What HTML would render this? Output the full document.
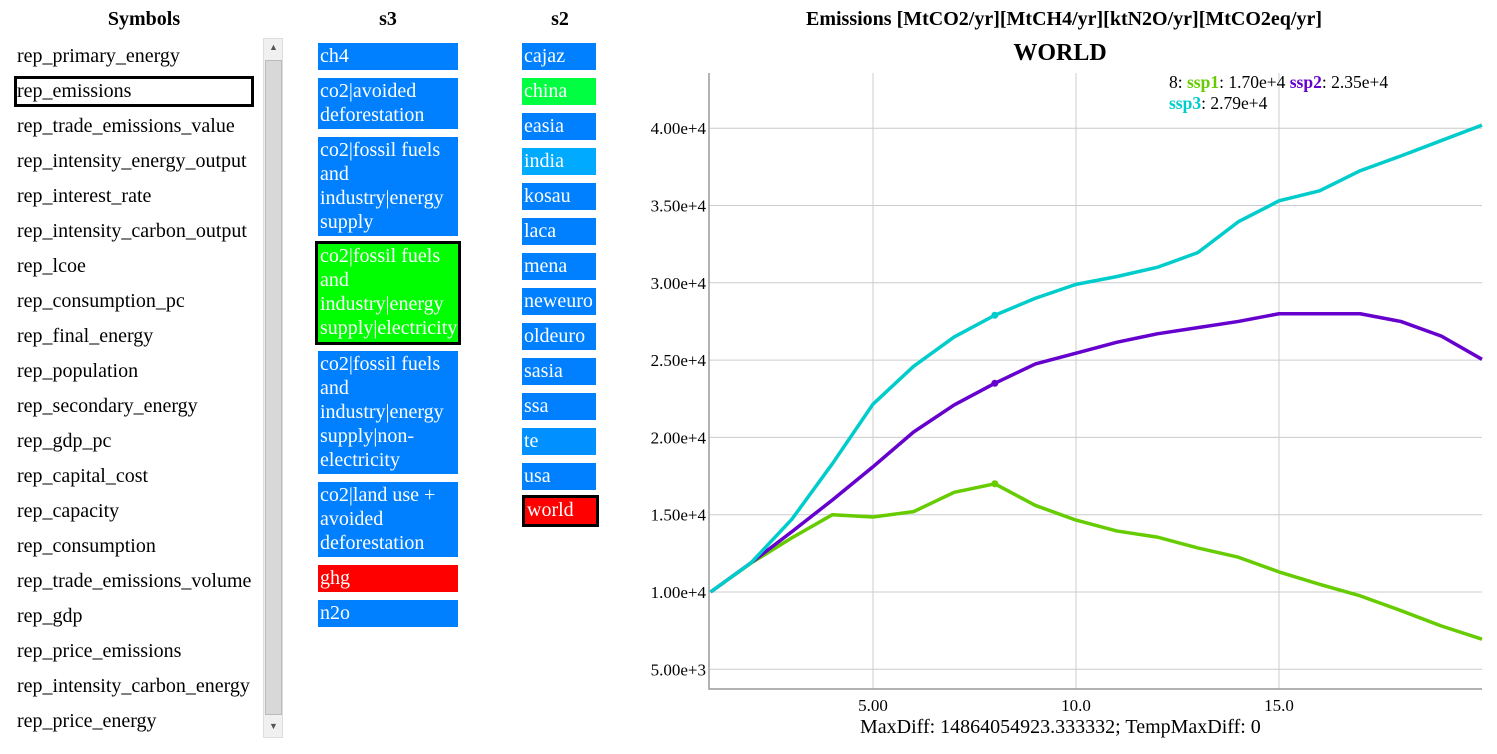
<!DOCTYPE html>
<html><head><meta charset="utf-8">
<style>
body{margin:0;width:1497px;height:754px;background:#fff;font-family:"Liberation Serif",serif;font-size:20px;color:#000;position:relative;overflow:hidden}
.abs{position:absolute}
.h{font-weight:bold;text-align:center}
.sym{position:absolute;left:14px;width:240px;height:31px;line-height:30px;padding-left:3px;box-sizing:border-box;white-space:nowrap}
.b{position:absolute;color:#fff;line-height:24px;padding:1px 2px;box-sizing:border-box;background:#0080ff;white-space:nowrap}
</style></head><body>
<div class="abs h" style="left:14px;width:260px;top:8px">Symbols</div>
<div class="abs h" style="left:318px;width:140px;top:8px">s3</div>
<div class="abs h" style="left:522px;width:76px;top:8px">s2</div>
<div id="symlist"></div>
<div class="abs" style="left:263px;top:38px;width:20px;height:700px;background:#f0f0f0;border:1px solid #ddd;box-sizing:border-box">
 <div class="abs" style="left:5px;top:3px;font-size:9px;color:#555">▲</div>
 <div class="abs" style="left:1px;top:21px;width:17px;height:655px;background:#d8d8d8;border:1px solid #bbb;box-sizing:border-box"></div>
 <div class="abs" style="left:5px;top:682px;font-size:9px;color:#555">▼</div>
</div>
<div id="s3"></div>
<div id="s2"></div>

<div class="abs h" style="left:700px;width:728px;top:8px;font-size:20px;white-space:nowrap">Emissions [MtCO2/yr][MtCH4/yr][ktN2O/yr][MtCO2eq/yr]</div>
<div class="abs h" style="left:860px;width:400px;top:40px;font-size:24px">WORLD</div>
<svg class="abs" style="left:0;top:0" width="1497" height="754" id="chart"></svg>
<div class="abs" style="left:1169px;top:72px;font-size:17.5px;line-height:21px;white-space:nowrap">8: <b style="color:#66cc00">ssp1</b>: 1.70e+4 <b style="color:#6600cc">ssp2</b>: 2.35e+4<br><b style="color:#00cccc">ssp3</b>: 2.79e+4</div>
<div class="abs" style="left:860px;top:716px;font-size:20px;white-space:nowrap">MaxDiff: 14864054923.333332; TempMaxDiff: 0</div>

<script>
const symbols=["rep_primary_energy","rep_emissions","rep_trade_emissions_value","rep_intensity_energy_output","rep_interest_rate","rep_intensity_carbon_output","rep_lcoe","rep_consumption_pc","rep_final_energy","rep_population","rep_secondary_energy","rep_gdp_pc","rep_capital_cost","rep_capacity","rep_consumption","rep_trade_emissions_volume","rep_gdp","rep_price_emissions","rep_intensity_carbon_energy","rep_price_energy"];
const sl=document.getElementById('symlist');
symbols.forEach((s,i)=>{const d=document.createElement('div');d.className='sym';d.style.top=(41+i*35)+'px';d.textContent=s;
if(i===1){d.style.border='3px solid #000';d.style.paddingLeft='0px';d.style.lineHeight='25px';}


sl.appendChild(d);});

const s3=[["ch4",43,27,"#0080ff",0],["co2|avoided<br>deforestation",78,51,"#0080ff",0],["co2|fossil fuels<br>and<br>industry|energy<br>supply",137,99,"#0080ff",0],["co2|fossil fuels<br>and<br>industry|energy<br>supply|electricity",241,104,"#00ff00",1],["co2|fossil fuels<br>and<br>industry|energy<br>supply|non-<br>electricity",351,123,"#0080ff",0],["co2|land use +<br>avoided<br>deforestation",482,75,"#0080ff",0],["ghg",565,27,"#ff0000",0],["n2o",600,27,"#0080ff",0]];
const c3=document.getElementById('s3');
s3.forEach(a=>{const d=document.createElement('div');d.className='b';d.innerHTML=a[0];d.style.left='318px';d.style.width='140px';d.style.top=a[1]+'px';d.style.height=a[2]+'px';d.style.background=a[3];
if(a[4]){d.style.border='3px solid #000';d.style.left='315px';d.style.width='146px';d.style.padding='0 2px';}


c3.appendChild(d);});
const s2=[["cajaz","#0080ff"],["china","#00ff40"],["easia","#0080ff"],["india","#00aaff"],["kosau","#0080ff"],["laca","#0080ff"],["mena","#0080ff"],["neweuro","#0080ff"],["oldeuro","#0080ff"],["sasia","#0080ff"],["ssa","#0080ff"],["te","#0090ff"],["usa","#0080ff"],["world","#ff0000"]];
const c2=document.getElementById('s2');
s2.forEach((a,i)=>{const d=document.createElement('div');d.className='b';d.textContent=a[0];d.style.left='522px';d.style.width='74px';d.style.top=(43+i*35)+'px';d.style.height='27px';d.style.background=a[1];
if(a[0]==='world'){d.style.border='3px solid #000';d.style.top='495px';d.style.height='32px';d.style.width='77px';d.style.padding='0 2px';}


c2.appendChild(d);});

// chart data
const years=[1,2,3,4,5,6,7,8,9,10,11,12,13,14,15,16,17,18,19,20];
const ssp1=[10000,11880,13500,15000,14850,15200,16450,17000,15600,14650,13950,13550,12850,12250,11300,10500,9750,8800,7800,6950];
const ssp2=[10000,11900,13900,15950,18100,20350,22100,23500,24750,25450,26150,26700,27100,27500,28000,28000,28000,27500,26550,25050];
const ssp3=[10000,11900,14700,18300,22150,24600,26500,27900,29000,29900,30400,31000,31950,33950,35300,35950,37250,38200,39200,40200];
const xTicks=[5,10,15];
const xTickLabels=["5.00","10.0","15.0"];
const yTicks=[5000,10000,15000,20000,25000,30000,35000,40000];
const yTickLabels=["5.00e+3","1.00e+4","1.50e+4","2.00e+4","2.50e+4","3.00e+4","3.50e+4","4.00e+4"];
const L=709,R=1482,T=73,B=689;
const X=v=>873+(v-5)*40.6;
const Y=v=>592-(v-10000)/5000*77.3;
const svg=document.getElementById('chart');
const NS='http://www.w3.org/2000/svg';
function mk(t,at){const e=document.createElementNS(NS,t);for(const k in at)e.setAttribute(k,at[k]);svg.appendChild(e);return e;}
yTicks.forEach((v,i)=>{const g=mk('line',{x1:L,x2:R,y1:Y(v),y2:Y(v),stroke:'#ccc','stroke-width':1});


const t=mk('text',{x:L-3,y:Y(v)+6,'text-anchor':'end','font-size':17,'font-family':'Liberation Serif'});t.textContent=yTickLabels[i];

});
xTicks.forEach((v,i)=>{const g=mk('line',{x1:X(v),x2:X(v),y1:T,y2:B,stroke:'#ccc','stroke-width':1});


const t=mk('text',{x:X(v),y:B+22,'text-anchor':'middle','font-size':17,'font-family':'Liberation Serif'});t.textContent=xTickLabels[i];

});
const ax=mk('path',{d:`M${L},${T}V${B}H${R}`,stroke:'#999',fill:'none','stroke-width':1.5});


[[ssp1,'#66cc00','ssp1'],[ssp2,'#6600cc','ssp2'],[ssp3,'#00cccc','ssp3']].forEach(s=>{
const d=s[0].map((v,i)=>(i?'L':'M')+X(years[i])+','+Y(v)).join('');
const p=mk('path',{d:d,stroke:s[1],fill:'none','stroke-width':3.5,'stroke-linejoin':'round'});


const c=mk('circle',{cx:X(years[7]),cy:Y(s[0][7]),r:3.5,fill:s[1]});


});
</script>
</body></html>
